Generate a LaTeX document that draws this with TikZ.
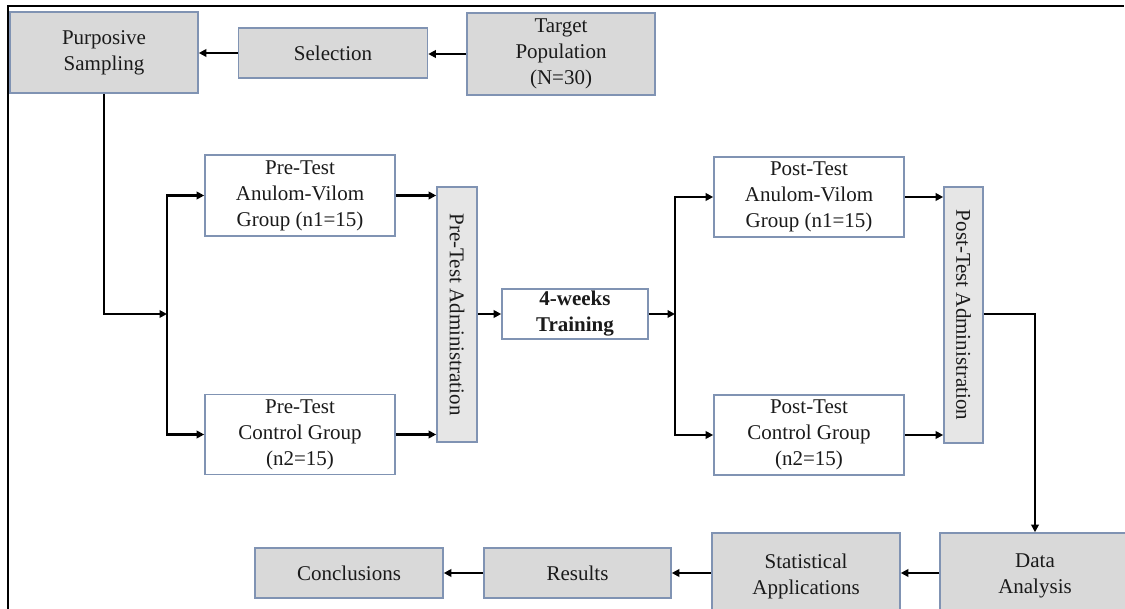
\documentclass[tikz,border=0pt]{standalone}
\usepackage{fontspec}
\setmainfont{Liberation Serif}
\usetikzlibrary{arrows.meta}
\definecolor{boxline}{HTML}{8093B3}
\definecolor{boxgray}{HTML}{D9D9D9}
\definecolor{boxlight}{HTML}{E6E6E6}
\definecolor{txt}{HTML}{1A1A1A}
\tikzset{
  base/.style={draw=boxline, line width=1.6pt, inner sep=0pt, align=center,
    text=txt, font=\fontsize{21}{26}\selectfont},
  graybox/.style={base, fill=boxgray},
  whitebox/.style={base, fill=white},
  arr/.style={line width=2.8pt, black, -{Triangle[length=7.5pt,width=7.5pt]}},
}
\begin{document}
\begin{tikzpicture}[x=1pt,y=-1pt]
\clip (0,0) rectangle (1125,609);
\fill[white] (0,0) rectangle (1125,609);
\draw[line width=2.6pt, black] (7.8,609) -- (7.8,6) -- (1124,6);

% top row
\node[graybox, minimum width=188pt, minimum height=81pt] (ps) at (104,52.5) {Purposive\\Sampling};
\node[graybox, minimum width=189pt, minimum height=50pt] (sel) at (333,53) {Selection};
\node[graybox, minimum width=188pt, minimum height=82pt] (tp) at (561,54) {Target\\Population\\(N=30)};

% pre-test
\node[whitebox, minimum width=190pt, minimum height=81pt] (preav) at (300,195.5) {Pre-Test\\Anulom-Vilom\\Group (n1=15)};
\node[whitebox, minimum width=190pt, minimum height=80pt] (prec) at (300,434.5) {Pre-Test\\Control Group\\(n2=15)};
\node[base, fill=boxlight, minimum width=40pt, minimum height=255pt] (preadm) at (457,314.5) {};
\node[text=txt, font=\fontsize{21}{26}\selectfont, rotate=-90] (preadmt) at (preadm.center) {Pre-Test Administration};

% training
\node[whitebox, minimum width=146pt, minimum height=50pt, font=\fontsize{21}{26}\selectfont\bfseries] (train) at (575,314) {4-weeks\\Training};

% post-test
\node[whitebox, minimum width=190pt, minimum height=80pt] (postav) at (809,197) {Post-Test\\Anulom-Vilom\\Group (n1=15)};
\node[whitebox, minimum width=190pt, minimum height=80pt] (postc) at (809,435) {Post-Test\\Control Group\\(n2=15)};
\node[base, fill=boxlight, minimum width=39pt, minimum height=256pt] (postadm) at (963.5,315) {};
\node[text=txt, font=\fontsize{21}{26}\selectfont, rotate=-90] (postadmt) at (postadm.center) {Post-Test Administration};

% bottom row
\node[graybox, minimum width=190pt, minimum height=86pt] (da) at (1035,576) {Data\\Analysis};
\node[graybox, minimum width=188pt, minimum height=86pt] (stat) at (806,576) {Statistical\\Applications};
\node[graybox, minimum width=187pt, minimum height=50pt] (res) at (577.5,573) {Results};
\node[graybox, minimum width=188pt, minimum height=50pt] (conc) at (349,573) {Conclusions};

% junctions
\coordinate (j1) at (167,314);
\coordinate (j2) at (675,314);

% connectors
\draw[arr] (tp.west) -- (tp.west -| sel.east);
\draw[arr] (sel.west) -- (sel.west -| ps.east);
\draw[arr] (ps.south) |- (j1);
\draw[arr] (j1) |- (preav.west);
\draw[arr] (j1) |- (prec.west);
\draw[arr] (preav.east) -- (preav.east -| preadm.west);
\draw[arr] (prec.east) -- (prec.east -| preadm.west);
\draw[arr] (preadm.east |- train.west) -- (train.west);
\draw[arr] (train.east) -- (j2);
\draw[arr] (j2) |- (postav.west);
\draw[arr] (j2) |- (postc.west);
\draw[arr] (postav.east) -- (postav.east -| postadm.west);
\draw[arr] (postc.east) -- (postc.east -| postadm.west);
\draw[arr] (postadm.east |- train.east) -| (da.north);
\draw[arr] (da.west |- res.east) -- (stat.east |- res.east);
\draw[arr] (stat.west |- res.east) -- (res.east);
\draw[arr] (res.west) -- (conc.east);
\end{tikzpicture}
\end{document}
